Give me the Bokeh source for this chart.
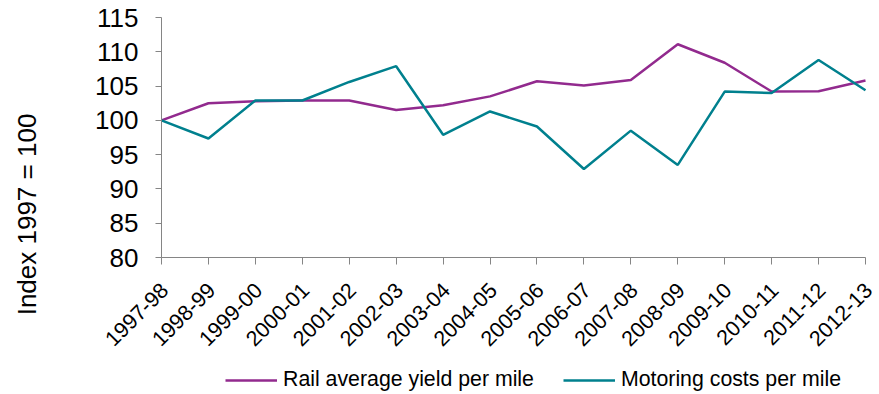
from bokeh.plotting import figure
from bokeh.models import (Range1d, FixedTicker, Legend, LegendItem, LinearAxis,
                          Label, CustomLabelingPolicy)
from bokeh.core.properties import value
from bokeh.embed import file_html
from bokeh.resources import INLINE
import math

# Financial years on the x axis
years = ["1997-98", "1998-99", "1999-00", "2000-01", "2001-02", "2002-03",
         "2003-04", "2004-05", "2005-06", "2006-07", "2007-08", "2008-09",
         "2009-10", "2010-11", "2011-12", "2012-13"]

# Index values (1997 = 100)
rail_yield = [100.0, 102.5, 102.8, 102.9, 102.9, 101.5, 102.2, 103.5,
              105.7, 105.1, 105.9, 111.1, 108.4, 104.2, 104.25, 105.8]
motoring_costs = [100.0, 97.35, 102.9, 102.9, 105.6, 107.9, 97.9, 101.3,
                  99.1, 92.9, 98.5, 93.5, 104.2, 104.0, 108.8, 104.4]

y_ticks = [80, 85, 90, 95, 100, 105, 110, 115]
y_tick_labels = [str(t) for t in y_ticks]
y_min, y_max = 80, 115

FONT = "Liberation Sans"
RAIL_COLOR = "#922A8E"
MOTOR_COLOR = "#00808E"
AXIS_COLOR = "#858585"

# Canvas layout (pixels). The plotting frame covers the whole canvas so that
# every label (year labels, value labels, axis title, legend) lives inside it.
W, H = 879, 394
AX_LEFT, AX_RIGHT = 161, 865     # x pixel of first / last year
AX_TOP, AX_BOTTOM = 17, 257      # y pixel of 115 / 80

xs = list(range(len(years)))
px_x = (AX_RIGHT - AX_LEFT) / (len(years) - 1)
px_y = (AX_BOTTOM - AX_TOP) / (y_max - y_min)
x_range = Range1d(-AX_LEFT / px_x, (len(years) - 1) + (W - AX_RIGHT) / px_x)
y_range = Range1d(y_min - (H - AX_BOTTOM) / px_y, y_max + AX_TOP / px_y)

p = figure(width=W, height=H, output_backend="svg", toolbar_location=None,
           x_range=x_range, y_range=y_range,
           x_axis_location=None, y_axis_location=None,
           min_border=0)
p.outline_line_color = None
p.grid.visible = False
p.background_fill_color = "white"
p.border_fill_color = "white"

r_rail = p.line(xs, rail_yield, line_color=RAIL_COLOR, line_width=2.5)
r_motor = p.line(xs, motoring_costs, line_color=MOTOR_COLOR, line_width=2.5)

no_labels = CustomLabelingPolicy(code="for (const i of [...indices]) indices.unset(i); return indices")

# Value axis along x = 0 (first year), ticks pointing left
ya = LinearAxis(fixed_location=0, ticker=FixedTicker(ticks=y_ticks), bounds=(y_min, y_max))
ya.major_label_policy = no_labels
ya.major_label_text_font_size = "1px"
ya.major_label_standoff = 0
ya.minor_tick_line_color = None
ya.major_tick_in = 6
ya.major_tick_out = 0
ya.axis_line_color = AXIS_COLOR
ya.major_tick_line_color = AXIS_COLOR
p.add_layout(ya, "right")

# Year axis along y = 80, ticks pointing down
xa = LinearAxis(fixed_location=y_min, ticker=FixedTicker(ticks=xs), bounds=(0, len(years) - 1))
xa.major_label_policy = no_labels
xa.major_label_text_font_size = "1px"
xa.major_label_standoff = 0
xa.minor_tick_line_color = None
xa.major_tick_in = 7
xa.major_tick_out = 0
xa.axis_line_color = AXIS_COLOR
xa.major_tick_line_color = AXIS_COLOR
p.add_layout(xa, "above")

# Value labels left of the axis
p.text(x=[0] * len(y_ticks), y=y_ticks, text=y_tick_labels,
       text_align="right", text_baseline="middle", x_offset=-23,
       text_font=value(FONT), text_font_size="26px", text_color="black")

# Rotated year labels under each tick
p.text(x=xs, y=[y_min] * len(xs), text=years, angle=math.pi / 4,
       text_align="right", text_baseline="middle",
       x_offset=3, y_offset=29,
       text_font=value(FONT), text_font_size="21.5px", text_color="black")

# Axis title
p.add_layout(Label(x=26, y=H - 214, x_units="screen", y_units="screen",
                   text="Index 1997 = 100", angle=math.pi / 2,
                   text_align="center", text_baseline="middle",
                   text_font=FONT, text_font_size="26px", text_color="black"))

legend = Legend(items=[LegendItem(label="Rail average yield per mile", renderers=[r_rail]),
                       LegendItem(label="Motoring costs per mile", renderers=[r_motor])],
                location=(225, 2), orientation="horizontal")
legend.label_text_font = FONT
legend.label_text_font_size = "21.3px"
legend.label_text_color = "black"
legend.glyph_width = 52
legend.glyph_height = 22
legend.label_standoff = 6
legend.spacing = 29
legend.padding = 0
legend.margin = 0
legend.border_line_alpha = 0
legend.background_fill_alpha = 0
p.add_layout(legend, "center")

open("out.html", "w").write(file_html(p, INLINE))
